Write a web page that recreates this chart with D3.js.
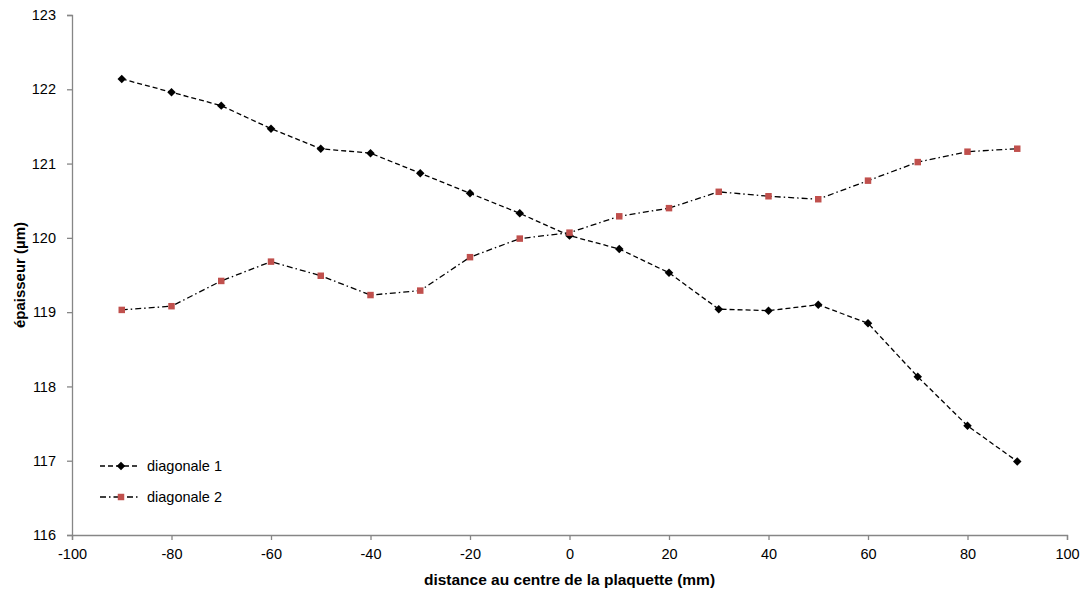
<!DOCTYPE html>
<html>
<head>
<meta charset="utf-8">
<script src="https://cdn.jsdelivr.net/npm/d3@7"></script>
<style>
  body { margin: 0; background: #fff; }
  text { font-family: "Liberation Sans", Arial, sans-serif; fill: #000; }
</style>
</head>
<body>
<div id="chart"></div>
<script>
// data
var distances = [-90, -80, -70, -60, -50, -40, -30, -20, -10, 0, 10, 20, 30, 40, 50, 60, 70, 80, 90];
var diagonale1 = [122.14, 121.96, 121.78, 121.47, 121.20, 121.14, 120.87, 120.60, 120.33, 120.03,
                  119.85, 119.53, 119.04, 119.02, 119.10, 118.85, 118.13, 117.47, 116.99];
var diagonale2 = [119.03, 119.08, 119.42, 119.68, 119.49, 119.23, 119.29, 119.74, 119.99, 120.07,
                  120.29, 120.40, 120.62, 120.56, 120.52, 120.77, 121.02, 121.16, 121.20];
var xTicks = [-100, -80, -60, -40, -20, 0, 20, 40, 60, 80, 100];
var yTicks = [116, 117, 118, 119, 120, 121, 122, 123];
var seriesNames = ["diagonale 1", "diagonale 2"];

var width = 1081, height = 593;
var margin = {top: 15, right: 14, bottom: 58, left: 72};
var axisColor = "#868686";

var svg = d3.select("#chart").append("svg")
    .attr("width", width)
    .attr("height", height);

var x = d3.scaleLinear().domain([-100, 100]).range([margin.left, width - margin.right]);
var y = d3.scaleLinear().domain([116, 123]).range([height - margin.bottom, margin.top]);

// plain hyphen like the original, not the unicode minus
var fmt = function (d) { return String(d); };

// axes
var xAxis = svg.append("g")
    .attr("transform", "translate(0," + y(116) + ")")
    .call(d3.axisBottom(x).tickValues(xTicks).tickSize(5).tickPadding(9).tickFormat(fmt));
var yAxis = svg.append("g")
    .attr("transform", "translate(" + x(-100) + ",0)")
    .call(d3.axisLeft(y).tickValues(yTicks).tickSize(5).tickPadding(11).tickFormat(fmt));

[xAxis, yAxis].forEach(function (a) {
    a.select(".domain").attr("stroke", axisColor).attr("stroke-width", 1.3);
    a.selectAll(".tick line").attr("stroke", axisColor).attr("stroke-width", 1.3);
    a.selectAll(".tick text").style("font-size", "14.5px").style("font-family", "'Liberation Sans', Arial, sans-serif").attr("fill", "#000");
});

// axis titles
svg.append("text")
    .attr("x", x(0))
    .attr("y", 585)
    .attr("text-anchor", "middle")
    .style("font-size", "15.5px")
    .style("font-weight", "bold")
    .text("distance au centre de la plaquette (mm)");

svg.append("text")
    .attr("transform", "translate(25," + y(119.5) + ") rotate(-90)")
    .attr("text-anchor", "middle")
    .style("font-size", "15px")
    .style("font-weight", "bold")
    .text("épaisseur (µm)");

// series
var series = [
    {name: seriesNames[0], values: diagonale1, dash: "5,3", marker: d3.symbolSquare, size: 36, rot: 45, fill: "#000"},
    {name: seriesNames[1], values: diagonale2, dash: "6,3,1.5,3", marker: d3.symbolSquare, size: 42, rot: 0, fill: "#C0504D"}
];

var line = d3.line()
    .x(function (d, i) { return x(distances[i]); })
    .y(function (d) { return y(d); });

series.forEach(function (s) {
    var g = svg.append("g");
    g.append("path")
        .datum(s.values)
        .attr("d", line)
        .attr("fill", "none")
        .attr("stroke", "#000")
        .attr("stroke-width", 1.3)
        .attr("stroke-dasharray", s.dash);
    g.selectAll("path.pt")
        .data(s.values)
        .enter()
        .append("path")
        .classed("pt", true)
        .attr("transform", function (d, i) {
            return "translate(" + x(distances[i]) + "," + y(d) + ") rotate(" + s.rot + ")";
        })
        .attr("d", d3.symbol().type(s.marker).size(s.size))
        .attr("fill", s.fill);
});

// legend
var legend = svg.append("g").attr("transform", "translate(100,466)");
series.forEach(function (s, i) {
    var row = legend.append("g").attr("transform", "translate(0," + (i * 31) + ")");
    row.append("line")
        .attr("x1", 0).attr("x2", 40)
        .attr("y1", 0).attr("y2", 0)
        .attr("stroke", "#000")
        .attr("stroke-width", 1.3)
        .attr("stroke-dasharray", s.dash);
    row.append("path")
        .attr("transform", "translate(21,0) rotate(" + s.rot + ")")
        .attr("d", d3.symbol().type(s.marker).size(s.size))
        .attr("fill", s.fill);
    row.append("text")
        .attr("x", 47)
        .attr("y", 5)
        .style("font-size", "14.5px")
        .text(s.name);
});
</script>
</body>
</html>
